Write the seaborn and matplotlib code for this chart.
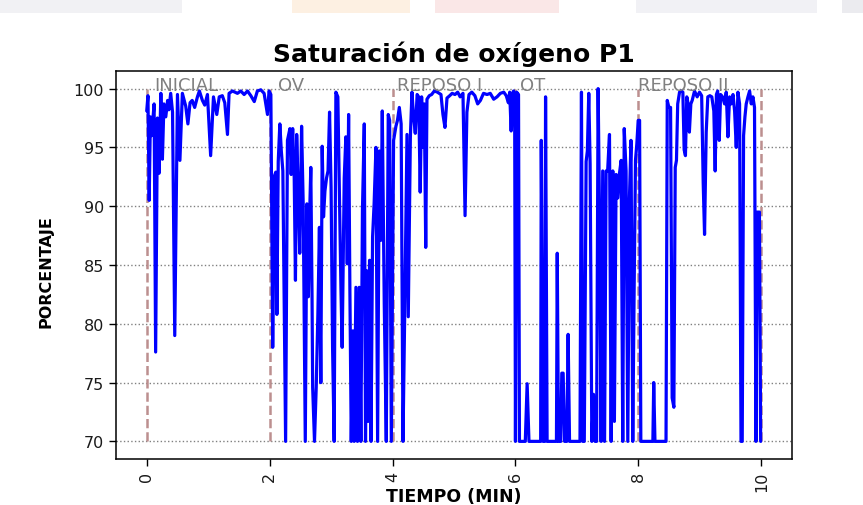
import numpy as np
import pandas as pd
import matplotlib
matplotlib.use("Agg")
import matplotlib.pyplot as plt
from matplotlib.patches import Rectangle
import seaborn as sns

# ---------------- data (minutes, % SpO2) ----------------
inicial_t = [0.00, 0.02, 0.04, 0.06, 0.08, 0.12, 0.145, 0.174, 0.20, 0.23,
             0.255, 0.28, 0.31, 0.34, 0.36, 0.39, 0.42, 0.456, 0.50, 0.54,
             0.58, 0.635, 0.67, 0.705, 0.74, 0.78, 0.825, 0.857, 0.906, 0.944,
             0.988, 1.04, 1.086, 1.14, 1.18, 1.23, 1.27, 1.314, 1.34, 1.395,
             1.476, 1.53, 1.585, 1.64, 1.694, 1.75, 1.80, 1.856, 1.91, 1.965,
             1.99]
inicial_v = [98.1, 99.4, 90.5, 97.6, 96.0, 98.7, 77.6, 97.5, 92.8, 99.6,
             94.0, 98.7, 97.6, 99.0, 98.2, 99.6, 98.0, 79.0, 99.5, 93.9,
             99.6, 98.5, 97.0, 98.8, 99.0, 98.4, 99.3, 99.8, 99.0, 98.6,
             99.5, 94.3, 99.3, 97.8, 99.3, 99.4, 98.8, 96.1, 99.6, 99.8,
             99.6, 99.8, 99.5, 99.8, 99.4, 98.9, 99.8, 99.9, 99.6, 97.8,
             99.8]

ov_t = [2.02, 2.05, 2.08, 2.10, 2.118, 2.14, 2.166, 2.19, 2.215, 2.26,
        2.29, 2.33, 2.35, 2.375, 2.40, 2.42, 2.44, 2.465, 2.49, 2.52,
        2.546, 2.58, 2.606, 2.63, 2.655, 2.67, 2.69, 2.70, 2.73, 2.758,
        2.785, 2.81, 2.833, 2.855, 2.877, 2.90, 2.926, 2.95, 2.975, 3.0,
        3.024, 3.05, 3.078, 3.11, 3.138, 3.16, 3.18, 3.214, 3.24, 3.263,
        3.285, 3.306, 3.328, 3.355, 3.376, 3.404, 3.43, 3.458, 3.485, 3.51,
        3.54, 3.56, 3.583, 3.605, 3.626, 3.65, 3.675, 3.70, 3.73, 3.757,
        3.784, 3.81, 3.833, 3.865, 3.898, 3.93, 3.953, 3.98]
ov_v = [99.5, 78.0, 92.6, 92.9, 80.8, 93.8, 97.0, 94.7, 93.0, 70.0,
        95.6, 96.6, 92.7, 96.6, 92.4, 83.7, 96.1, 91.3, 86.0, 96.8,
        90.2, 70.0, 90.2, 82.3, 90.2, 93.3, 82.3, 74.6, 70.0, 74.6,
        80.8, 88.2, 75.0, 95.1, 89.1, 91.3, 92.4, 93.0, 98.0, 91.6,
        78.0, 70.0, 99.7, 99.3, 90.2, 83.1, 78.0, 92.4, 95.9, 85.1,
        97.8, 82.8, 70.0, 79.4, 70.0, 83.1, 70.0, 83.1, 70.0, 89.6,
        97.0, 70.0, 84.5, 71.7, 85.4, 70.0, 87.4, 90.2, 95.0, 70.0,
        94.7, 87.1, 98.1, 81.7, 70.0, 97.8, 97.3, 70.0]

reposo1_t = [4.017, 4.055, 4.08, 4.11, 4.14, 4.17, 4.20, 4.235, 4.256, 4.29,
             4.316, 4.34, 4.37, 4.40, 4.425, 4.45, 4.473, 4.495, 4.517, 4.54,
             4.56, 4.598, 4.636, 4.68, 4.73, 4.788, 4.82, 4.853, 4.886, 4.93,
             4.97, 5.016, 5.06, 5.10, 5.146, 5.18, 5.21, 5.244, 5.29, 5.34,
             5.385, 5.43, 5.48, 5.538, 5.59, 5.646, 5.70, 5.754, 5.81, 5.85,
             5.885, 5.906, 5.93, 5.95, 5.97, 5.988]
reposo1_v = [95.6, 96.8, 97.3, 98.4, 97.0, 70.0, 81.7, 96.1, 80.6, 95.9,
             99.7, 97.8, 96.2, 99.5, 99.3, 91.2, 99.3, 95.0, 98.7, 86.5,
             99.1, 99.4, 99.5, 99.8, 99.7, 99.5, 97.8, 96.7, 99.2, 99.4,
             99.6, 99.5, 99.7, 99.3, 99.6, 89.2, 98.0, 99.5, 99.7, 99.4,
             98.7, 99.0, 99.6, 99.5, 99.6, 99.1, 99.3, 99.6, 99.7, 99.4,
             98.8, 99.7, 96.4, 99.6, 99.8, 96.5]

ot_t = [6.00, 6.02, 6.05, 6.065, 6.16, 6.19, 6.22, 6.41, 6.42, 6.45,
        6.477, 6.49, 6.515, 6.667, 6.68, 6.70, 6.737, 6.754, 6.776, 6.80,
        6.835, 6.857, 6.88, 7.05, 7.074, 7.096, 7.12, 7.15, 7.17, 7.193,
        7.215, 7.243, 7.27, 7.296, 7.32, 7.345, 7.372, 7.394, 7.42, 7.45,
        7.475, 7.50, 7.53, 7.557, 7.584, 7.61, 7.638, 7.665, 7.69, 7.72,
        7.746, 7.77, 7.80, 7.828, 7.855, 7.88, 7.909, 7.93, 7.953, 7.975,
        7.997]
ot_v = [70.0, 99.7, 99.5, 70.0, 70.0, 74.9, 70.0, 70.0, 95.6, 70.0,
        70.0, 99.3, 70.0, 70.0, 86.0, 70.0, 70.0, 75.8, 75.8, 70.0,
        70.0, 79.1, 70.0, 70.0, 99.7, 70.0, 70.0, 93.8, 94.7, 99.6,
        93.6, 70.0, 74.0, 70.0, 70.0, 100.0, 87.4, 70.0, 93.0, 70.0,
        93.0, 93.0, 96.1, 70.0, 93.0, 71.7, 92.7, 90.7, 92.7, 93.9,
        70.0, 96.6, 93.0, 70.0, 90.7, 95.6, 70.0, 82.3, 93.9, 95.3,
        97.3]

reposo2_t = [8.02, 8.04, 8.236, 8.25, 8.27, 8.45, 8.47, 8.497, 8.524, 8.55,
             8.578, 8.60, 8.62, 8.64, 8.67, 8.697, 8.724, 8.745, 8.766, 8.788,
             8.81, 8.83, 8.854, 8.876, 8.914, 8.957, 8.995, 9.03, 9.055, 9.077,
             9.104, 9.13, 9.164, 9.195, 9.228, 9.25, 9.27, 9.29, 9.316, 9.338,
             9.37, 9.403, 9.43, 9.457, 9.484, 9.51, 9.54, 9.566, 9.593, 9.62,
             9.647, 9.67, 9.69, 9.712, 9.734, 9.755, 9.783, 9.81, 9.837, 9.864,
             9.89, 9.913, 9.935, 9.97, 9.99]
reposo2_v = [97.3, 70.0, 70.0, 75.0, 70.0, 70.0, 99.0, 98.4, 98.4, 73.7,
             72.9, 93.3, 93.9, 98.7, 99.7, 99.8, 99.7, 94.8, 94.3, 99.3,
             98.7, 96.3, 98.7, 99.0, 99.8, 99.3, 99.7, 99.4, 92.0, 87.6,
             96.3, 99.3, 99.4, 99.3, 98.1, 93.0, 99.5, 99.8, 95.6, 99.5,
             99.3, 98.7, 99.7, 95.9, 99.3, 98.7, 99.5, 98.1, 95.0, 99.7,
             98.7, 70.0, 70.0, 96.0, 97.6, 98.7, 99.3, 99.8, 98.7, 99.3,
             98.4, 70.0, 89.5, 89.5, 70.0]

fases = ["INICIAL", "OV", "REPOSO I", "OT", "REPOSO II"]
limites_fase = [0, 2, 4, 6, 8, 10]
x_ticks = [0, 2, 4, 6, 8, 10]
y_ticks = [70, 75, 80, 85, 90, 95, 100]

# ---------------- build table ----------------
df = pd.DataFrame({
    "tiempo": inicial_t + ov_t + reposo1_t + ot_t + reposo2_t,
    "spo2": inicial_v + ov_v + reposo1_v + ot_v + reposo2_v,
})

# ---------------- style ----------------
sns.set_style("ticks")
plt.rcParams["font.family"] = ["DejaVu Sans"]
plt.rcParams["axes.edgecolor"] = "black"
plt.rcParams["xtick.color"] = "black"
plt.rcParams["ytick.color"] = "black"
plt.rcParams["text.color"] = "black"
plt.rcParams["axes.labelcolor"] = "black"

W, H = 863, 506
fig = plt.figure(figsize=(W / 100, H / 100), dpi=100)
fig.patch.set_facecolor("white")

# faint screenshot bands at the top
for x0, x1, col in [(0, 182, "#f1f1f4"), (292, 410, "#fdf0e2"), (435, 559, "#fae7e7"),
                    (636, 817, "#f1f1f5"), (842, 863, "#ebebef")]:
    fig.patches.append(Rectangle((x0 / W, 1 - 14 / H), (x1 - x0) / W, 14 / H,
                                 transform=fig.transFigure, color=col, lw=0, zorder=0))

ax = fig.add_axes([116 / W, 46 / H, 676 / W, 388 / H])

ax.vlines(limites_fase, 70, 100, colors="rosybrown", linestyles="--", lw=1.8, zorder=2)
sns.lineplot(data=df, x="tiempo", y="spo2", color="blue", lw=2.3,
             estimator=None, sort=False, ax=ax, zorder=3)

ax.grid(axis="y", linestyle=":", color="gray", lw=1.0)
ax.grid(axis="x", visible=False)
ax.set_xlim(-0.5, 10.5)
ax.set_ylim(68.5, 101.5)
ax.set_xticks(x_ticks)
ax.set_yticks(y_ticks)
ax.tick_params(axis="both", labelsize=11.5, length=5, width=1.0, labelcolor="#1a1a1a")
ax.tick_params(axis="x", labelrotation=90)
for s in ax.spines.values():
    s.set_linewidth(1.1)

label_x = [0.12, 2.13, 4.08, 6.07, 8.0]
for nombre, xt in zip(fases, label_x):
    ax.text(xt, 99.85, nombre, color="gray", fontsize=13, ha="left", va="baseline", zorder=4)

ax.set_title("Saturación de oxígeno P1", fontsize=18, fontweight="bold", pad=7)
ax.set_xlabel("TIEMPO (MIN)", fontsize=12.5, fontweight="bold")
ax.set_ylabel("PORCENTAJE", fontsize=11.5, fontweight="bold")
ax.yaxis.set_label_coords(-0.093, 0.486)
ax.xaxis.set_label_coords(0.499, -0.072)

fig.savefig("out.png", dpi=100)
